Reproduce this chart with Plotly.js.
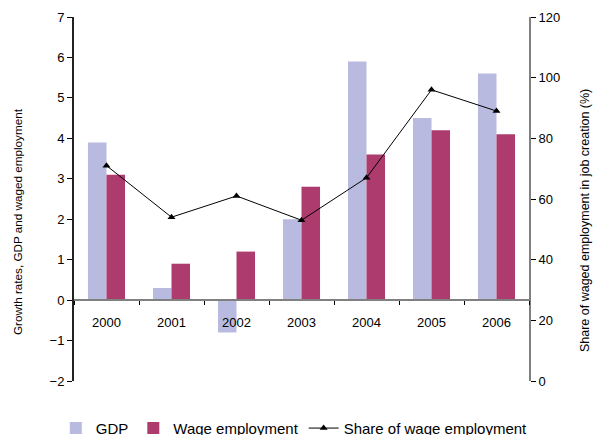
<!DOCTYPE html>
<html>
<head>
<meta charset="utf-8">
<script src="https://cdn.plot.ly/plotly-3.0.1.min.js"></script>
<style>html,body{margin:0;padding:0;background:#fff}#chart{width:593px;height:435px}</style>
</head>
<body>
<div id="chart"></div>
<script>
const years = ["2000", "2001", "2002", "2003", "2004", "2005", "2006"];
const gdpGrowth = [3.9, 0.3, -0.8, 2.0, 5.9, 4.5, 5.6];
const wageGrowth = [3.1, 0.9, 1.2, 2.8, 3.6, 4.2, 4.1];
const wageShare = [71, 54, 61, 53, 67, 96, 89];

const leftTitle = "Growth rates, GDP and waged employment";
const rightTitle = "Share of waged employment in job creation (%)";

const FONT = "Liberation Sans, Arial, sans-serif";
const zeroPos = 2 / 9;

const traces = [
  {type: "bar", name: "GDP", x: years, y: gdpGrowth, marker: {color: "#b8badf"}, xaxis: "x", yaxis: "y"},
  {type: "bar", name: "Wage employment", x: years, y: wageGrowth, marker: {color: "#ad3b6d"}, xaxis: "x", yaxis: "y"},
  {type: "scatter", mode: "lines+markers", name: "Share of wage employment", x: years, y: wageShare,
   line: {color: "#000", width: 1}, marker: {symbol: "triangle-up", size: 7, color: "#000"},
   xaxis: "x", yaxis: "y2"}
];

const layout = {
  width: 593, height: 435,
  margin: {l: 74, r: 64, t: 17, b: 54, autoexpand: false},
  paper_bgcolor: "#fff", plot_bgcolor: "#fff",
  font: {family: FONT, size: 13, color: "#000"},
  barmode: "group", bargap: 0.43, bargroupgap: 0,
  showlegend: true,
  legend: {orientation: "h", x: -0.04, xanchor: "left", y: -0.13, yanchor: "middle",
           font: {size: 15, family: FONT}, traceorder: "normal", itemwidth: 30, bgcolor: "rgba(0,0,0,0)"},
  xaxis: {type: "category", range: [-0.5, 6.5], domain: [0, 1], anchor: "free", position: zeroPos,
          showline: true, linecolor: "#808080", linewidth: 2, ticks: "outside", ticklen: 4, tickwidth: 1,
          tickcolor: "#000", tickson: "boundaries", showgrid: false, zeroline: false,
          tickfont: {size: 13}, ticklabelstandoff: 10, fixedrange: true},
  xaxis2: {type: "category", overlaying: "x", matches: "x", anchor: "free", position: zeroPos,
           showline: false, ticks: "inside", ticklen: 4, tickwidth: 1, tickcolor: "#000",
           tickson: "boundaries", showticklabels: false, showgrid: false, zeroline: false},
  yaxis: {range: [-2, 7], dtick: 1, domain: [0, 1], showline: true, linecolor: "#222", linewidth: 2,
          ticks: "outside", ticklen: 5, tickwidth: 1, tickcolor: "#000", showgrid: false, zeroline: false,
          tickfont: {size: 13}, anchor: "x"},
  yaxis3: {overlaying: "y", matches: "y", side: "left", anchor: "x", ticks: "inside", ticklen: 4,
           tickwidth: 1, tickcolor: "#000", showticklabels: false, showline: false, showgrid: false, zeroline: false},
  yaxis2: {range: [0, 120], dtick: 20, overlaying: "y", side: "right", anchor: "x", showline: true,
           linecolor: "#808080", linewidth: 2, ticks: "outside", ticklen: 5, tickwidth: 1, tickcolor: "#000",
           showgrid: false, zeroline: false, tickfont: {size: 13}},
  yaxis4: {overlaying: "y", matches: "y2", side: "right", anchor: "x", ticks: "inside", ticklen: 4,
           tickwidth: 1, tickcolor: "#000", showticklabels: false, showline: false, showgrid: false, zeroline: false},
  annotations: [
    {text: leftTitle, xref: "paper", yref: "paper", x: -0.123, y: 0.437, xanchor: "center", yanchor: "middle",
     textangle: -90, showarrow: false, font: {size: 11.7, family: FONT}},
    {text: rightTitle, xref: "paper", yref: "paper", x: 1.123, y: 0.442, xanchor: "center", yanchor: "middle",
     textangle: -90, showarrow: false, font: {size: 12.5, family: FONT}}
  ]
};

Plotly.newPlot("chart", traces, layout, {staticPlot: true, displayModeBar: false});
</script>
</body>
</html>
